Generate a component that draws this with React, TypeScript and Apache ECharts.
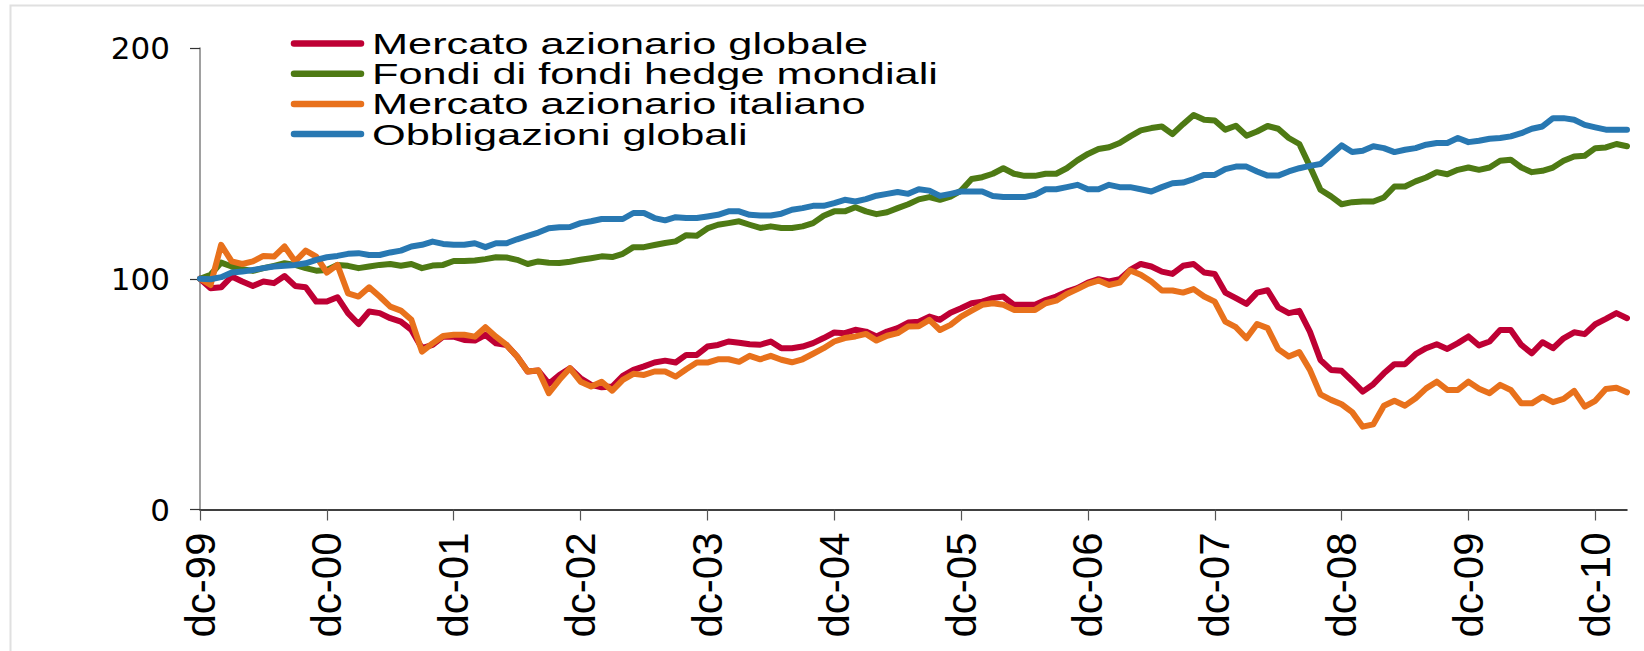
import React, { useEffect, useRef } from "react";
import * as echarts from "echarts";

const SERIES_NAMES = [
  "Mercato azionario globale",
  "Fondi di fondi hedge mondiali",
  "Mercato azionario italiano",
  "Obbligazioni globali",
];
const SERIES_COLORS = ["#BE0034", "#4E7A14", "#E8711C", "#2878B2"];

const MONTHS = ["gen", "feb", "mar", "apr", "mag", "giu", "lug", "ago", "set", "ott", "nov", "dc"];
const START_YEAR = 1999; // first point: dc-99
const N_POINTS = 136; // dc-99 .. mar-11

const globale = [
  100, 95.9, 96.3, 101, 98.8, 96.9, 98.8, 98.1, 101.2, 96.9, 96.3, 90.1,
  90.1, 92, 85.1, 80.4, 85.8, 85.1, 82.9, 81.4, 77.8, 69.9, 71.3, 74.9,
  74.9, 73.5, 73.2, 75.7, 72, 71.3, 66.3, 59.8, 60.2, 54.5, 58.3, 61.2,
  56.9, 54, 53, 53.3, 57.9, 60.5, 62, 63.7, 64.5, 63.7, 67, 67,
  70.6, 71.3, 72.8, 72.3, 71.6, 71.4, 72.8, 69.9, 69.9, 70.6, 72.1, 74.3,
  76.7, 76.4, 77.9, 77.1, 75, 77.1, 78.6, 81, 81.4, 83.6, 82.2, 85.3,
  87.2, 89.4, 90.1, 91.6, 92.3, 88.7, 88.7, 88.7, 90.8, 92.3, 94.4, 95.9,
  98.3, 99.8, 98.8, 99.8, 103.8, 106.4, 105.3, 103.1, 102.1, 105.6, 106.4, 102.7,
  102.1, 94, 91.6, 89.1, 94, 95, 87.6, 85.1, 86.1, 77.1, 64.8, 60.5,
  60.1, 55.7, 51.1, 54.3, 59, 63, 63, 67.3, 69.9, 71.6, 69.6, 72.1,
  75, 71.1, 72.8, 77.8, 77.8, 71.3, 67.7, 72.5, 69.9, 74.2, 76.8, 76,
  80.3, 82.6, 85.1, 82.9,
];

const hedge = [
  100, 101.7, 107, 105.3, 104.1, 103.4, 104.6, 105.6, 106.7, 106, 104.6, 103.5,
  103.8, 106, 105.6, 104.6, 105.3, 106, 106.4, 105.6, 106.4, 104.6, 105.7, 106,
  107.7, 107.7, 107.9, 108.5, 109.3, 109.2, 108.2, 106.4, 107.5, 106.9, 106.8, 107.4,
  108.2, 108.9, 109.7, 109.4, 110.8, 113.7, 113.7, 114.6, 115.5, 116.2, 118.9, 118.6,
  121.8, 123.4, 124.1, 124.9, 123.4, 122, 122.7, 122, 122, 122.7, 124.1, 127.3,
  129.2, 129.2, 131, 129.2, 128, 128.8, 130.6, 132.3, 134.4, 135.4, 134.2, 135.6,
  138.2, 143.2, 144, 145.5, 147.9, 145.5, 144.6, 144.6, 145.5, 145.5, 147.9, 151.3,
  154.1, 156.2, 157, 158.8, 161.7, 164.3, 165.3, 166, 162.7, 167, 171, 168.9,
  168.6, 164.6, 166.3, 162, 163.8, 166.2, 165, 161, 158.4, 148.7, 138.6, 135.7,
  132.3, 133.2, 133.5, 133.5, 135.2, 140, 140, 142.2, 143.9, 146.2, 145.3, 147.2,
  148.2, 147.2, 148.2, 151.1, 151.6, 148.2, 146.2, 146.8, 148.2, 151.1, 153, 153.3,
  156.6, 156.9, 158.4, 157.4,
];

const italiano = [
  100, 97.3, 114.7, 107.5, 106.4, 107.5, 109.9, 109.6, 114, 107.5, 112.2, 109.6,
  102.7, 106, 93.7, 92.3, 96.3, 92.3, 87.9, 86.2, 82.2, 68.4, 72, 75.2,
  75.7, 75.7, 74.9, 79, 74.9, 71.3, 66.3, 59.8, 60.3, 50.4, 56.2, 61.2,
  55.4, 53.3, 55.4, 51.5, 56.2, 58.8, 58.3, 59.8, 59.8, 57.6, 60.8, 63.7,
  63.7, 65.1, 65.1, 64, 66.6, 65.1, 66.6, 64.9, 63.8, 65.1, 67.5, 69.9,
  72.8, 74.3, 75, 76.1, 73.2, 75.3, 76.4, 79.3, 79.4, 82.2, 77.8, 80,
  83.6, 86.2, 88.7, 89.4, 88.7, 86.5, 86.5, 86.5, 89.4, 90.5, 93.4, 95.5,
  97.8, 99.2, 97.3, 98.3, 103.6, 101.7, 98.8, 94.9, 94.9, 94, 95.5, 92.3,
  90.1, 81.4, 79, 74.2, 80.4, 78.6, 69.5, 66.3, 68.2, 60.5, 49.9, 47.5,
  45.6, 42.2, 35.9, 36.9, 45, 47.1, 45, 48.2, 52.5, 55.4, 51.8, 51.8,
  55.4, 52.3, 50.4, 54, 51.8, 46, 46, 48.9, 46.5, 47.9, 51.4, 44.6,
  47.1, 52.2, 52.8, 50.8,
];

const obbligazioni = [
  100, 99.8, 100.7, 102.7, 103.1, 103.8, 104.6, 105.3, 105.6, 106, 106.7, 108.2,
  109.3, 109.9, 110.8, 111.1, 110.3, 110.3, 111.4, 112.2, 114, 114.7, 116.1, 115.1,
  114.7, 114.7, 115.4, 113.7, 115.4, 115.4, 117.1, 118.6, 120, 121.9, 122.3, 122.4,
  124.1, 124.9, 125.9, 125.9, 125.9, 128.5, 128.5, 126.3, 125.3, 126.7, 126.3, 126.3,
  127, 127.7, 129.2, 129.2, 127.7, 127.4, 127.4, 128.2, 129.9, 130.6, 131.6, 131.6,
  132.8, 134.2, 133.5, 134.5, 136, 136.8, 137.6, 136.8, 138.8, 138.2, 135.9, 136.8,
  137.8, 137.8, 137.8, 135.9, 135.4, 135.4, 135.4, 136.4, 138.8, 138.8, 139.7, 140.7,
  138.8, 138.8, 140.7, 139.7, 139.7, 138.8, 137.8, 139.7, 141.4, 141.7, 143.2, 145,
  145, 147.5, 148.6, 148.6, 146.5, 144.7, 144.7, 146.5, 147.9, 148.9, 149.7, 153.7,
  157.8, 154.9, 155.5, 157.4, 156.6, 154.9, 155.9, 156.6, 158.1, 158.8, 158.8, 161,
  159.2, 159.8, 160.7, 161, 161.7, 163.1, 165, 166, 169.6, 169.6, 168.9, 166.7,
  165.6, 164.6, 164.6, 164.6,
];

const Y_MIN = 0;
const Y_MAX = 200;
const Y_INTERVAL = 100;

function buildCategories(): string[] {
  const out: string[] = [];
  for (let i = 0; i < N_POINTS; i++) {
    const m = (11 + i) % 12;
    const y = START_YEAR + Math.floor((11 + i) / 12);
    out.push(`${MONTHS[m]}-${String(y % 100).padStart(2, "0")}`);
  }
  return out;
}

// legend layout (pixels)
const LEG_X = 294;
const LEG_LINE_LEN = 67;
const LEG_TEXT_X = 372;
const LEG_Y0 = 43.5;
const LEG_PITCH = 30.2;

export default function App() {
  const ref = useRef<HTMLDivElement>(null);

  useEffect(() => {
    if (!ref.current) return;
    const chart = echarts.init(ref.current, null, { renderer: "svg" });
    const categories = buildCategories();
    const allData = [globale, hedge, italiano, obbligazioni];
    const isDec = (idx: number) => idx % 12 === 0;

    const legendItems: any[] = [];
    SERIES_NAMES.forEach((name, k) => {
      const cy = LEG_Y0 + k * LEG_PITCH;
      legendItems.push({
        type: "line",
        silent: true,
        shape: { x1: LEG_X, y1: cy, x2: LEG_X + LEG_LINE_LEN, y2: cy },
        style: { stroke: SERIES_COLORS[k], lineWidth: 6.5, lineCap: "round" },
        z: 10,
      });
      legendItems.push({
        type: "text",
        silent: true,
        x: LEG_TEXT_X,
        y: cy,
        scaleX: 1.43,
        scaleY: 1,
        style: {
          text: name,
          fontFamily: "Liberation Sans",
          fontSize: 30.3,
          fill: "#000000",
          textAlign: "left",
          textVerticalAlign: "middle",
          verticalAlign: "middle",
        },
        z: 10,
      });
    });

    chart.setOption({
      animation: false,
      backgroundColor: "#ffffff",
      graphic: [
        {
          type: "rect",
          z: -1,
          silent: true,
          shape: { x: 10.5, y: 5.5, width: 1700, height: 700 },
          style: { fill: "none", stroke: "#e0e0e0", lineWidth: 2 },
        },
        ...legendItems,
      ],
      grid: { left: 200, right: 17, top: 48, bottom: 141.5, containLabel: false },
      xAxis: {
        type: "category",
        data: categories,
        boundaryGap: false,
        axisLine: { show: true, lineStyle: { color: "#000000", width: 1.5 } },
        axisTick: {
          show: true,
          interval: (idx: number) => isDec(idx),
          length: 11,
          lineStyle: { color: "#555555", width: 1.2 },
        },
        axisLabel: {
          interval: (idx: number) => isDec(idx),
          rotate: 90,
          margin: 23,
          fontFamily: "Liberation Sans",
          fontSize: 42,
          color: "#000000",
        },
        splitLine: { show: false },
      },
      yAxis: {
        type: "value",
        min: Y_MIN,
        max: Y_MAX,
        interval: Y_INTERVAL,
        axisLine: { show: true, lineStyle: { color: "#808080", width: 1.5 } },
        axisTick: { show: true, inside: false, length: 10, lineStyle: { color: "#333333", width: 1.2 } },
        axisLabel: {
          margin: 30,
          fontFamily: "DejaVu Sans",
          fontSize: 31,
          color: "#000000",
        },
        splitLine: { show: false },
      },
      series: SERIES_NAMES.map((name, k) => ({
        name,
        type: "line",
        data: allData[k],
        symbol: "none",
        smooth: false,
        color: SERIES_COLORS[k],
        lineStyle: { color: SERIES_COLORS[k], width: 6, cap: "round", join: "round" },
        itemStyle: { color: SERIES_COLORS[k] },
        z: 2 + k,
      })),
    });

    return () => chart.dispose();
  }, []);

  return (
    <div
      ref={ref}
      style={{ position: "fixed", left: 0, top: 0, width: 1644, height: 651, background: "#fff" }}
    />
  );
}
